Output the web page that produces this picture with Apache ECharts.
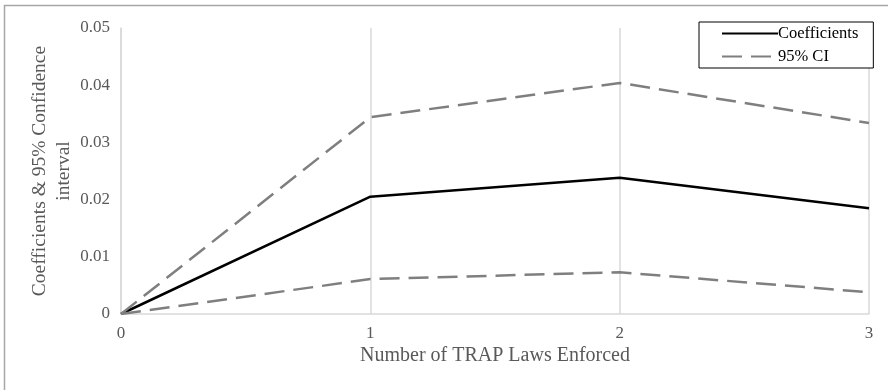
<!DOCTYPE html>
<html>
<head>
<meta charset="utf-8">
<script src="https://cdn.jsdelivr.net/npm/echarts@6/dist/echarts.min.js"></script>
<style>
  html, body { margin: 0; padding: 0; background: #fff; }
  #chart { width: 888px; height: 390px; }
</style>
</head>
<body>
<div id="chart"></div>
<script>
// Data
const lawsEnforced = [0, 1, 2, 3];
const coefficients = [0, 0.0205, 0.0238, 0.0185];
const ciUpper = [0, 0.0344, 0.0404, 0.0334];
const ciLower = [0, 0.0061, 0.0073, 0.0038];

const serif = '"Liberation Serif", "DejaVu Serif", serif';

const pairs = (ys) => lawsEnforced.map((x, i) => [x, ys[i]]);

const chart = echarts.init(document.getElementById('chart'));

const option = {
  animation: false,
  backgroundColor: '#fff',
  textStyle: { fontFamily: serif },
  grid: { left: 121, right: 19, top: 28, bottom: 76 },
  graphic: [
    {
      type: 'rect',
      shape: { x: 4.5, y: 5.5, width: 900, height: 400 },
      style: { fill: 'none', stroke: '#a6a6a6', lineWidth: 1.5 },
      silent: true
    }
  ],
  legend: {
    orient: 'vertical',
    left: 699,
    top: 22,
    data: ['Coefficients', '95% CI'],
    backgroundColor: '#fff',
    borderColor: '#000',
    borderWidth: 1,
    padding: [3, 15, 3, 22],
    itemWidth: 56,
    itemHeight: 16,
    itemGap: 6,
    itemStyle: { color: 'rgba(0,0,0,0)', borderWidth: 0 },
    textStyle: { fontFamily: serif, fontSize: 16.5, color: '#000', padding: [0, 0, 0, -5] }
  },
  xAxis: {
    type: 'value',
    min: 0,
    max: 3,
    interval: 1,
    name: 'Number of TRAP Laws Enforced',
    nameLocation: 'middle',
    nameGap: 32,
    nameMoveOverlap: false,
    nameTextStyle: { fontFamily: serif, fontSize: 20, color: '#595959' },
    axisLine: { show: true, lineStyle: { color: '#d9d9d9', width: 1.5 } },
    axisTick: { show: false },
    axisLabel: { fontFamily: serif, fontSize: 17, color: '#595959', margin: 11 },
    splitLine: { show: true, lineStyle: { color: '#d9d9d9', width: 1.5 } }
  },
  yAxis: {
    type: 'value',
    min: 0,
    max: 0.05,
    interval: 0.01,
    name: 'Coefficients & 95% Confidence\ninterval',
    nameLocation: 'middle',
    nameGap: 45,
    nameMoveOverlap: false,
    nameTextStyle: { fontFamily: serif, fontSize: 19.5, color: '#595959', lineHeight: 24 },
    axisLine: { show: true, lineStyle: { color: '#d9d9d9', width: 1.5 } },
    axisTick: { show: false },
    axisLabel: { fontFamily: serif, fontSize: 17, color: '#595959', margin: 11 },
    splitLine: { show: false }
  },
  series: [
    {
      name: 'Coefficients',
      type: 'line',
      data: pairs(coefficients),
      symbol: 'none',
      z: 3,
      lineStyle: { color: '#000', width: 2.5 },
      itemStyle: { color: '#000' }
    },
    {
      name: '95% CI',
      type: 'line',
      data: pairs(ciUpper),
      symbol: 'none',
      lineStyle: { color: '#7f7f7f', width: 2.5, type: [20, 9] },
      itemStyle: { color: '#7f7f7f' }
    },
    {
      name: '95% CI',
      type: 'line',
      data: pairs(ciLower),
      symbol: 'none',
      lineStyle: { color: '#7f7f7f', width: 2.5, type: [20, 9] },
      itemStyle: { color: '#7f7f7f' }
    }
  ]
};

chart.setOption(option);
</script>
</body>
</html>
